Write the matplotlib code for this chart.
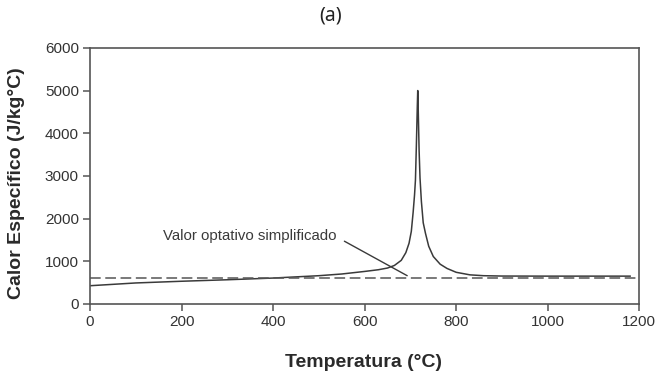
import matplotlib.pyplot as plt

# Specific heat of steel vs temperature
temp = [0, 100, 200, 300, 400, 500, 550, 600, 630, 650, 665, 680, 690, 697,
        702, 706, 709, 711, 713, 715, 716, 717, 719, 721, 724, 728, 733, 740,
        750, 765, 780, 800, 830, 860, 900, 1000, 1100, 1180]
cp = [425, 490, 530, 565, 605, 660, 700, 760, 800, 840, 900, 1020, 1200, 1420,
      1700, 2150, 2550, 2900, 3700, 4600, 5000, 4600, 3600, 2950, 2400, 1900,
      1650, 1350, 1110, 930, 830, 740, 680, 660, 652, 650, 650, 650]

# simplified constant value
cp_simple = 600
simple_range = [0, 1200]

plt.rcParams['font.family'] = ['Liberation Sans', 'DejaVu Sans']

fig = plt.figure(figsize=(6.57, 3.77), dpi=100)
ax = fig.add_axes([0.137, 0.194, 0.836, 0.679])

ax.plot(temp, cp, color='#3a3a3a', lw=1.1)
ax.plot(simple_range, [cp_simple, cp_simple], color='#555555', lw=1.1,
        dashes=(7, 3))

# leader line from the end of the label down to the dashed line
ax.annotate('Valor optativo simplificado', xy=(693, 660), xytext=(160, 1600),
            fontsize=10.8, color='#3a3a3a', va='center',
            arrowprops=dict(arrowstyle='-', color='#3a3a3a', lw=1.0,
                            relpos=(1.0, 0.4), shrinkA=4, shrinkB=0))

ax.set_xlim(0, 1200)
ax.set_ylim(0, 6000)
ax.set_xticks(range(0, 1201, 200))
ax.set_yticks(range(0, 6001, 1000))

for s in ax.spines.values():
    s.set_color('#555555')
    s.set_linewidth(1.2)
ax.tick_params(direction='out', length=5, width=1.1, color='#555555',
               labelcolor='#333333', labelsize=11, pad=3)

ax.set_xlabel('Temperatura (°C)', fontsize=14, fontweight='bold',
              color='#2a2a2a')
ax.set_ylabel('Calor Específico (J/kg°C)', fontsize=14, fontweight='bold',
              color='#2a2a2a')
ax.xaxis.set_label_coords(0.498, -0.197)
ax.yaxis.set_label_coords(-0.118, 0.47)

fig.text(0.503, 0.958, '(a)', ha='center', va='center', fontsize=14,
         family='Noto Sans', color='#222222')

fig.savefig('out.png', dpi=100)
